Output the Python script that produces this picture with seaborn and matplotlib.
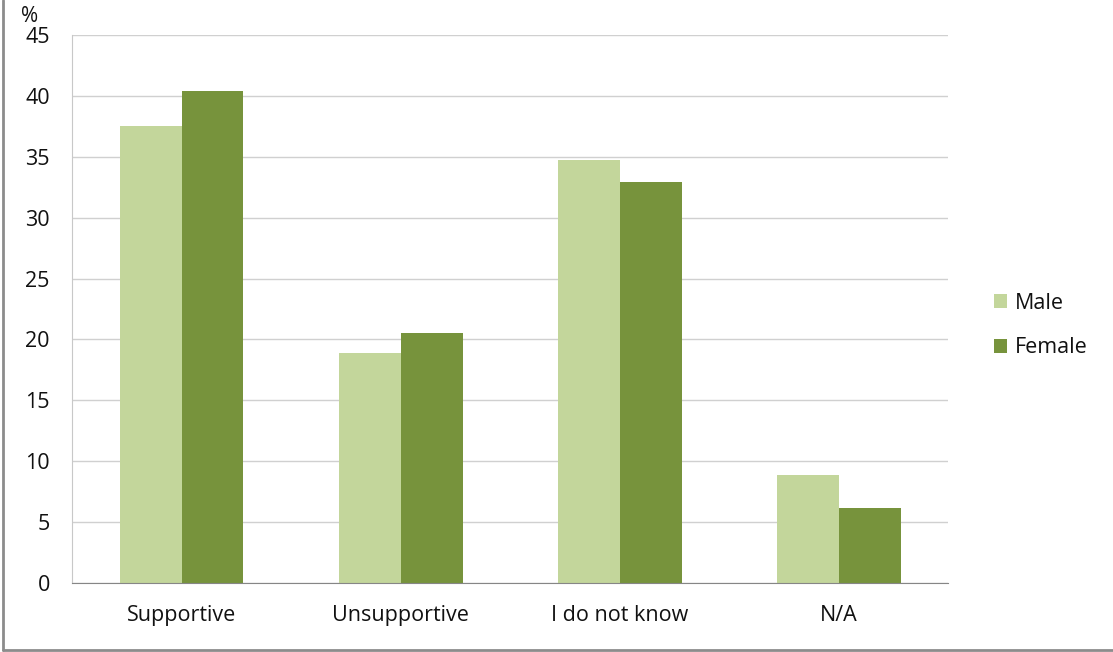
import pandas as pd
import seaborn as sns
import matplotlib.pyplot as plt
from matplotlib.lines import Line2D

# data
categories = ["Supportive", "Unsupportive", "I do not know", "N/A"]
male = [37.5, 18.9, 34.7, 8.9]
female = [40.4, 20.5, 32.9, 6.2]
groups = ["Male", "Female"]

df = pd.DataFrame({
    "category": categories * 2,
    "group": [groups[0]] * 4 + [groups[1]] * 4,
    "value": male + female,
})

sns.set_style("white")
plt.rcParams['font.family'] = ['Open Sans', 'DejaVu Sans']

fig = plt.figure(figsize=(11.13, 6.52), dpi=100)
ax = fig.add_axes([0.0647, 0.1058, 0.7871, 0.8405])

sns.barplot(data=df, x="category", y="value", hue="group", order=categories,
            hue_order=groups, palette=["#C3D69B", "#77933C"], width=0.566,
            saturation=1, linewidth=0, ax=ax, legend=True)

ax.set_ylim(0, 45)
ax.set_yticks(range(0, 46, 5))
ax.set_xlim(-0.5, 3.5)
ax.yaxis.grid(True, color="#D0D0D0", linewidth=1)
ax.set_axisbelow(True)
ax.set_xlabel("")
ax.set_ylabel("")
for s in ["top", "right"]:
    ax.spines[s].set_visible(False)
ax.spines["left"].set_color("#C8C8C8")
ax.spines["bottom"].set_color("#868686")
ax.tick_params(axis="y", length=0, pad=16, labelsize=15.5, labelcolor="#111111")
ax.tick_params(axis="x", length=0, pad=16, labelsize=15.5, labelcolor="#111111")

ax.annotate("%", xy=(0, 1), xycoords="axes fraction", xytext=(-37, 13),
            textcoords="offset points", fontsize=15, color="#111111",
            ha="left", va="center")

leg = ax.legend(loc="center left", bbox_to_anchor=(1.03, 0.47), frameon=False,
                fontsize=15.5, handlelength=0.6, handleheight=0.6,
                handletextpad=0.4, labelspacing=1.1)
for t in leg.get_texts():
    t.set_color("#111111")

# outer frame (left and bottom edges visible)
fig.add_artist(Line2D([0.003, 0.003], [0.003, 1.0], color="#8C8C8C", linewidth=2))
fig.add_artist(Line2D([0.003, 1.0], [0.003, 0.003], color="#8C8C8C", linewidth=2))

fig.savefig("out.png", dpi=100)
